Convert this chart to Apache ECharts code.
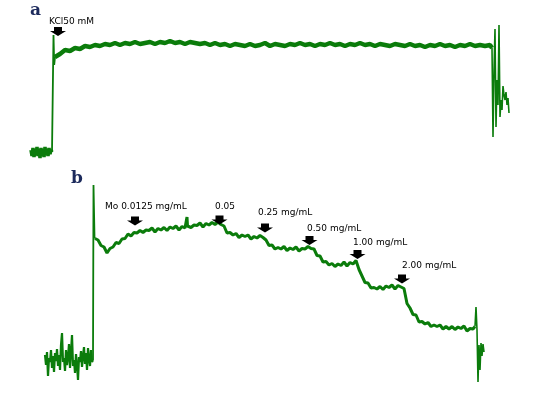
<!DOCTYPE html>
<html><head><meta charset="utf-8">
<script src="https://cdn.jsdelivr.net/npm/echarts@6/dist/echarts.min.js"></script>
<style>html,body{margin:0;padding:0;background:#fff}#c{width:539px;height:401px}</style>
</head><body><div id="c"></div>
<script>
// ---------- Panel a (KCl 50 mM contraction) : [time, tension] ----------
const baseA = [[31,20],[32,14],[33,22],[34,13],[35,19],[36,15],[37,23],[38,14],[39,21],[40,12],[41,22],[42,16],[43,20],[44,13],[45,23],[46,15],[47,21],[48,14],[49,22],[50,16],[51,20],[52,18]];
const riseA = [[52,18],[53,18],[53.5,135],[54.2,105],[55,113]];
const plateauA = [[55,113],[60,116],[65,120],[70,119],[75,122],[80,121],[85,124],[90,123],[95,125],[100,124],[105,126],[110,125],[115,127],[120,125],[125,127],[130,126],[135,128],[140,126],[145,127],[150,128],[155,126],[160,128],[165,127],[170,129],[175,127],[180,128],[185,126],[190,128],[195,127],[200,126],[205,127],[210,125],[215,127],[220,125],[225,126],[230,124],[235,126],[240,125],[245,124],[250,126],[255,124],[260,125],[265,127],[270,124],[275,126],[280,125],[285,124],[290,126],[295,125],[300,127],[305,125],[310,126],[315,124],[320,126],[325,125],[330,127],[335,125],[340,126],[345,124],[350,126],[355,125],[360,127],[365,125],[370,126],[375,124],[380,126],[385,125],[390,124],[395,126],[400,125],[405,124],[410,126],[415,124],[420,125],[425,123],[430,125],[435,124],[440,126],[445,124],[450,125],[455,123],[460,125],[465,124],[470,126],[475,124],[480,125],[485,124],[490,125],[492,122]];
const tailA = [[492,122],[493,33],[494,100],[495,141],[496,43],[497,90],[498,65],[499,145],[500,53],[501,70],[502,60],[503,84],[504,75],[505,70],[506,78],[507,65],[508,72],[509,57]];
const arrowA = [[58,138.5]];
const arrowLabelsA = ['KCl50 mM'];

// ---------- Panel b (Mo cumulative doses) : [time, tension] ----------
const baseB = [[45,45],[46,35],[47,48],[48,24],[49,42],[50,38],[51,50],[52,32],[53,44],[54,28],[55,47],[56,39],[57,51],[58,34],[59,45],[60,30],[61,55],[62,67],[63,38],[64,42],[65,29],[66,50],[67,35],[68,43],[69,56],[70,32],[71,48],[72,65],[73,34],[74,40],[75,27],[76,46],[77,35],[78,20],[79,43],[80,38],[81,49],[82,33],[83,44],[84,53],[85,36],[86,47],[87,30],[88,52],[89,41],[90,34],[91,50],[92,38],[93,40]];
const riseB = [[93,40],[93.5,215],[94.5,163],[95,161.5]];
const traceB = [[95,161.5],[98,160],[101,154.5],[104,153],[107,147],[110,151.5],[113,153],[116,157.5],[119,156.5],[122,161],[125,161.5],[128,166],[131,164],[134,167.5],[137,167],[140,169.5],[143,167.5],[146,170],[149,169.5],[152,172],[155,168],[158,171.5],[161,170],[164,172.5],[167,169.5],[170,173],[173,171.5],[176,174],[179,170],[182,173.5],[185,172],[186.5,173],[187,183],[187.5,174],[188,175.5],[191,172.5],[194,175],[197,174.5],[200,177],[203,173],[206,176.5],[209,175],[212,177.5],[215,175.5],[218,178],[221,175.5],[224,174],[227,167],[230,167.5],[233,165],[236,166.5],[239,162.5],[242,165],[245,163.5],[248,165],[251,161],[254,163.5],[257,162],[260,164.5],[263,162.5],[266,160],[269,154.5],[272,155],[275,151],[278,152.5],[281,151],[284,153.5],[287,149.5],[290,152],[293,150.5],[296,153],[299,149],[302,151.5],[305,151],[308,153.5],[311,151.5],[314,151],[317,144.5],[320,144],[323,138],[326,138.5],[329,135],[332,136.5],[335,133.5],[338,136],[341,134.5],[344,138],[347,134],[350,137.5],[353,136],[356,139.5],[359,130.5],[362,124],[365,117.5],[368,117],[371,112],[374,112.5],[377,111],[380,113.5],[383,110.5],[386,114],[389,112.5],[392,115],[395,111],[398,114.5],[401,113],[404,111.5],[407,96.5],[410,92],[413,85.5],[416,85],[419,78],[422,78.5],[425,76],[428,77.5],[431,73.5],[434,75],[437,73.5],[440,75],[443,71],[446,73.5],[449,71],[452,73.5],[455,70.5],[458,73],[461,71.5],[464,74],[467,69],[470,71.5],[473,71],[475,73.5]];
const tailB = [[475,73.5],[476,93],[477,70],[478,18],[479,55],[480,30],[481,57],[482,44],[483,56],[484,48]];
const arrowB = [[135,179],[219.5,180],[265,172],[309.5,159.5],[357.5,145.5],[402,121]];
const arrowLabelsB = ['Mo 0.0125 mg/mL','0.05','0.25 mg/mL','0.50 mg/mL','1.00 mg/mL','2.00 mg/mL'];

// layout offsets for the annotation labels (dx, dy relative to arrow)
const labelOffsetsA = [[-9,-0.5]];
const labelOffsetsB = [[-30,-4.5],[-4.5,-4],[-7,-5.5],[-2.5,-2.5],[-4.5,-2],[0,-3.5]];

const GREEN = '#0b7c0b';
const arrowPath = 'path://M4,0L12,0L12,4L16,4L8,9L0,4L4,4Z';

function lineSeries(data, grid, width) {
  return { type:'line', data, xAxisIndex:grid, yAxisIndex:grid, symbol:'none', showSymbol:false,
    lineStyle:{ color:GREEN, width }, silent:true, z:2 };
}
function arrowSeries(data, labels, offsets, grid) {
  return { type:'scatter', xAxisIndex:grid, yAxisIndex:grid, symbol:arrowPath, symbolSize:[16,9],
    itemStyle:{ color:'#000', opacity:1 }, z:5, silent:true,
    data: data.map((d,i)=>({ value:d, label:{ show:true, formatter:labels[i], position:'top', distance:0,
      align:'left', offset:offsets[i], fontSize:9, lineHeight:10, fontFamily:'DejaVu Sans', color:'#000' } })) };
}
const hiddenAxis = { show:false, splitLine:{show:false} };

const chart = echarts.init(document.getElementById('c'), null, { renderer:'canvas' });
chart.setOption({
  animation:false,
  backgroundColor:'#fff',
  title:[
    { text:'a', left:30, top:2, padding:0, textStyle:{ fontFamily:'DejaVu Serif', fontSize:17, fontWeight:'bold', color:'#1c2a5c' } },
    { text:'b', left:71, top:170, padding:0, textStyle:{ fontFamily:'DejaVu Serif', fontSize:17, fontWeight:'bold', color:'#1c2a5c' } }
  ],
  grid:[
    { left:0, top:0, width:539, height:170 },
    { left:0, top:169, width:539, height:231 }
  ],
  xAxis:[
    Object.assign({ type:'value', min:0, max:539, gridIndex:0 }, hiddenAxis),
    Object.assign({ type:'value', min:0, max:539, gridIndex:1 }, hiddenAxis)
  ],
  yAxis:[
    Object.assign({ type:'value', min:0, max:170, gridIndex:0 }, hiddenAxis),
    Object.assign({ type:'value', min:0, max:231, gridIndex:1 }, hiddenAxis)
  ],
  series:[
    lineSeries(baseA, 0, 3.5),
    lineSeries(riseA, 0, 1.8),
    lineSeries(plateauA, 0, 4.5),
    lineSeries(tailA, 0, 1.6),
    arrowSeries(arrowA, arrowLabelsA, labelOffsetsA, 0),
    lineSeries(baseB, 1, 2.2),
    lineSeries(riseB, 1, 1.8),
    lineSeries(traceB, 1, 3),
    lineSeries(tailB, 1, 1.6),
    arrowSeries(arrowB, arrowLabelsB, labelOffsetsB, 1)
  ]
});
</script>
</body></html>
